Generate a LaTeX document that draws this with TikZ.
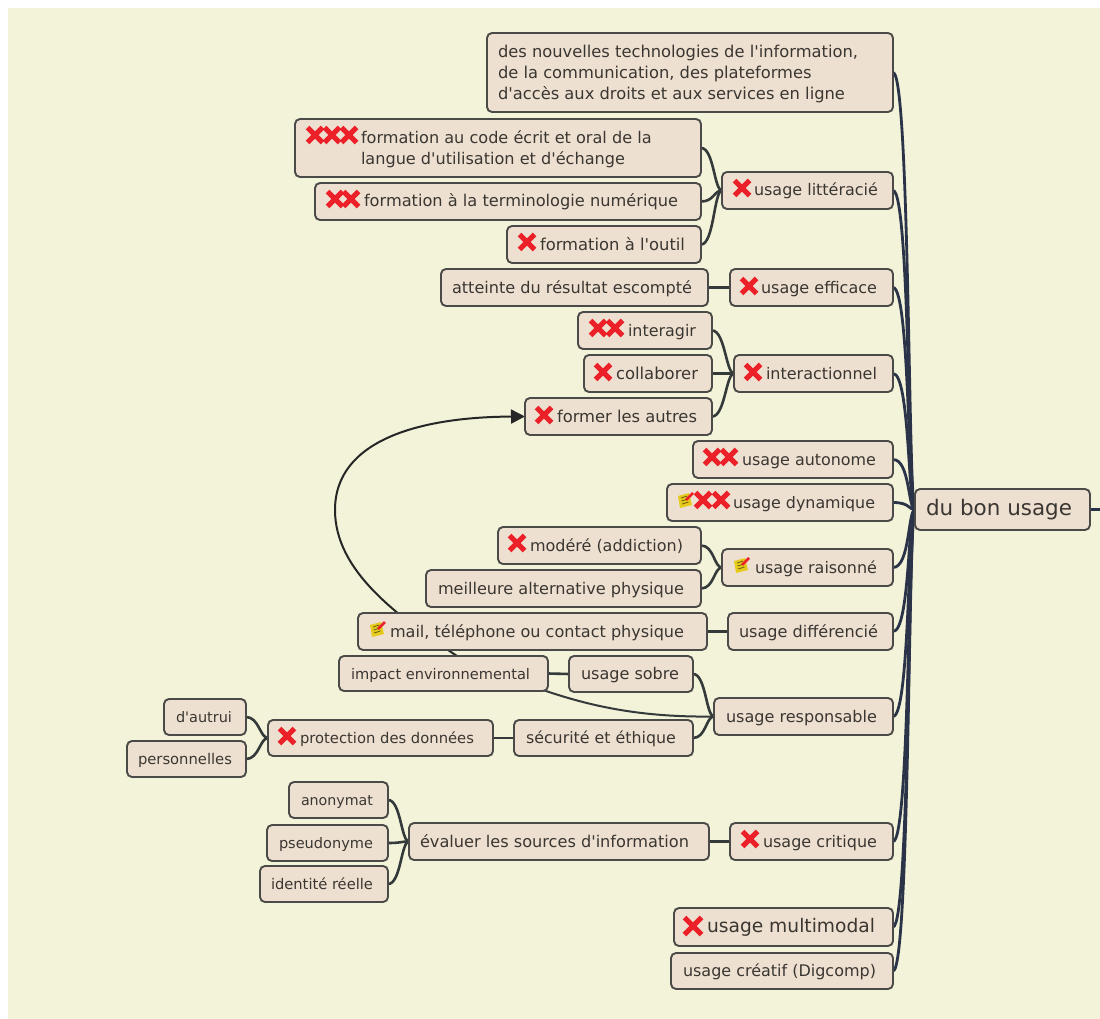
\documentclass[tikz,border=0pt]{standalone}
\usepackage{fontspec}
\setmainfont{DejaVu Sans}
\usetikzlibrary{backgrounds,arrows.meta}
\definecolor{pagebg}{HTML}{F3F3DA}
\definecolor{boxfill}{HTML}{EEE0D0}
\definecolor{boxline}{HTML}{4A4A48}
\definecolor{txt}{HTML}{3A3632}
\definecolor{trunkc}{HTML}{2A3348}
\definecolor{edgec}{HTML}{34393A}
\definecolor{xred}{HTML}{EC2028}
\definecolor{notey}{HTML}{E6CB1E}
\tikzset{
  box/.style={draw=boxline,fill=boxfill,line width=1.9pt,rounded corners=5pt,inner sep=0pt,outer sep=0pt,text=txt},
  trunk/.style={draw=trunkc,line width=2.8pt},
  link/.style={draw=edgec,line width=2.6pt},
  arrowlink/.style={draw=black!85,line width=2pt,-{Triangle[length=14pt,width=14pt]}}
}
\newlength\mymeasure
\newcommand\ap{\textquotesingle{}}
% single-line box whose text runs from tx to te
\newcommand\bx[8]{%
  \pgfmathsetmacro\bw{#4-#2}\pgfmathsetmacro\bh{#5-#3}%
  \pgfmathsetmacro\bo{#6-#2}\pgfmathsetmacro\bt{#7-#6}%
  \settowidth\mymeasure{\pgfinterruptpicture\normalfont\fontsize{10}{12}\selectfont #8\endpgfinterruptpicture}%
  \pgfmathsetmacro\fs{10*\bt/\the\mymeasure}%
  \node[box,minimum width=\bw pt,minimum height=\bh pt] (#1) at ({(#2+#4)/2},{(#3+#5)/2})
    {\makebox[\bw pt][l]{\hspace*{\bo pt}\fontsize{\fs}{20}\selectfont\rule[-8pt]{0pt}{27pt}#8}};%
}
% multi-line box with explicit font size
\newcommand\bxm[8]{%
  \pgfmathsetmacro\bw{#4-#2}\pgfmathsetmacro\bh{#5-#3}%
  \pgfmathsetmacro\bo{#6-#2}%
  \node[box,minimum width=\bw pt,minimum height=\bh pt] (#1) at ({(#2+#4)/2},{(#3+#5)/2})
    {\makebox[\bw pt][l]{\hspace*{\bo pt}\fontsize{#7}{21}\selectfont\begin{tabular}{@{}l@{}}\rule{0pt}{18.7pt}#8\end{tabular}}};%
}
\newcommand\xic[3][7.5]{%
  \draw[xred,line width=5pt] (#2-#1,#3-#1) -- (#2+#1,#3+#1) (#2-#1,#3+#1) -- (#2+#1,#3-#1);%
}
\newcommand\noteic[2]{%
  \begin{scope}[shift={(#1,#2)}]
    \fill[notey] (-7,-4) -- (4,-7) -- (7,5) -- (-5,8) -- cycle;
    \draw[black!55!notey,line width=.8pt] (-4,-2) -- (2,-4) (-3.5,1) -- (3,-1) (-3,4) -- (3.5,2);
    \draw[xred,line width=2.6pt] (1,0) -- (8,-7);
  \end{scope}%
}
\begin{document}
\begin{tikzpicture}[x=1pt,y=-1pt]
\useasboundingbox (0,0) rectangle (1100,1019);
\begin{scope}[on background layer]
  \fill[white] (0,0) rectangle (1100,1019);
  \fill[pagebg] (8,8) rectangle (1100,1019);
\end{scope}
\bxm{nouv}{487}{33}{893}{112}{498}{16.3}{des nouvelles technologies de l\ap information,\\de la communication, des plateformes\\d\ap accès aux droits et aux services en ligne}
\bxm{code}{295}{119}{701}{177}{361}{16.1}{formation au code écrit et oral de la\\langue d\ap utilisation et d\ap échange}
\bx{termi}{315}{183}{701}{220}{364}{678}{formation à la terminologie numérique}
\bx{outil}{507}{226}{701}{263}{540}{685}{formation à l\ap outil}
\bx{litt}{722}{172}{893}{209}{754}{878}{usage littéracié}
\bx{atte}{441}{269}{708}{306}{452}{692}{atteinte du résultat escompté}
\bx{effi}{730}{269}{893}{306}{761}{877}{usage efficace}
\bx{inte}{578}{312}{712}{349}{628}{696}{interagir}
\bx{coll}{584}{355}{712}{392}{616}{698}{collaborer}
\bx{form}{525}{398}{712}{435}{557}{697}{former les autres}
\bx{iact}{734}{355}{893}{392}{766}{877}{interactionnel}
\bx{auto}{693}{441}{893}{478}{742}{876}{usage autonome}
\bx{dyna}{667}{484}{893}{521}{733}{875}{usage dynamique}
\bx{bon}{915}{489}{1090}{530}{926}{1072}{du bon usage}
\bx{mode}{498}{527}{701}{564}{530}{683}{modéré (addiction)}
\bx{meil}{426}{570}{701}{607}{438}{684}{meilleure alternative physique}
\bx{rais}{722}{549}{893}{586}{755}{877}{usage raisonné}
\bx{mail}{358}{613}{707}{650}{390}{684}{mail, téléphone ou contact physique}
\bx{diff}{728}{613}{893}{650}{739}{878}{usage différencié}
\bx{impa}{339}{656}{548}{691}{351}{530}{impact environnemental}
\bx{sobr}{569}{656}{693}{692}{581}{679}{usage sobre}
\bx{resp}{714}{698}{893}{735}{726}{877}{usage responsable}
\bx{secu}{514}{720}{693}{756}{526}{676}{sécurité et éthique}
\bx{prot}{268}{720}{493}{756}{300}{474}{protection des données}
\bx{autr}{164}{699}{246}{735}{176}{232}{d\ap autrui}
\bx{pers}{127}{741}{246}{777}{138}{232}{personnelles}
\bx{anon}{289}{782}{388}{818}{301}{373}{anonymat}
\bx{pseu}{267}{825}{388}{861}{279}{373}{pseudonyme}
\bx{iden}{260}{866}{388}{902}{271}{373}{identité réelle}
\bx{eval}{409}{823}{709}{860}{420}{689}{évaluer les sources d\ap information}
\bx{crit}{730}{823}{893}{860}{763}{877}{usage critique}
\bx{mult}{674}{908}{893}{946}{707}{875}{usage multimodal}
\bx{crea}{671}{953}{893}{989}{683}{876}{usage créatif (Digcomp)}
% icons
\xic{315}{135}\xic{332}{135}\xic{349}{135}
\xic{335}{199}\xic{351}{199}
\xic{527}{242}
\xic{742}{188}
\xic{749}{286}
\xic{598}{328}\xic{615}{328}
\xic{603}{372}
\xic{544}{415}
\xic{753}{372}
\xic{712}{457}\xic{729}{457}
\noteic{685}{500}
\xic{703}{500}\xic{721}{500}
\noteic{741}{565}
\xic{517}{543}
\noteic{377}{629}
\xic{287}{736}
\xic{750}{839}
\xic[8.5]{693}{926}
% connectors
\coordinate (arrsrc) at (460,658);
\coordinate (arrbend) at (335,510);
\coordinate (resptail) at (543,690);
\coordinate (bonout) at (1100,509.5);
\begin{scope}[on background layer]
  \foreach \c in {nouv,litt,effi,iact,auto,dyna,rais,diff,resp,crit,mult,crea}
    \draw[trunk] (\c.east) .. controls +(17,0) and +(-7,0) .. (bon.west);
  \draw[trunk] (bon.east) -- (bonout);
  \foreach \c/\p in {code/litt,termi/litt,outil/litt,inte/iact,coll/iact,form/iact,mode/rais,meil/rais,sobr/resp,secu/resp,autr/prot,pers/prot,anon/eval,pseu/eval,iden/eval}
    \draw[link] (\c.east) .. controls +(13,0) and +(-8,0) .. (\p.west);
  \draw[link] (atte.east) -- (effi.west);
  \draw[link] (mail.east) -- (diff.west);
  \draw[link] (impa.east) -- (sobr.west);
  \draw[link] (prot.east) -- (secu.west);
  \draw[link] (eval.east) -- (crit.west);
  \draw[edgec,line width=2pt] (resptail) .. controls +(47,16) and +(-74,1) .. (resp.west);
  \draw[arrowlink] (arrsrc) .. controls (395,615) and (335,570) .. (arrbend)
     .. controls (335,440) and (420,417) .. (form.west);
\end{scope}
\end{tikzpicture}
\end{document}
